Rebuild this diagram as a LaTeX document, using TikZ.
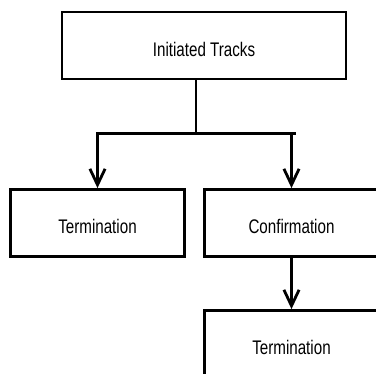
\documentclass[tikz,border=0pt]{standalone}
\usepackage{fontspec}
\setmainfont{Liberation Sans}[FakeStretch=0.77]
\usetikzlibrary{arrows.meta,positioning}

\begin{document}
\begin{tikzpicture}[
  x=0.025cm, y=-0.025cm,
  line width=2pt,
  stagebox/.style={draw, minimum width=4.35cm, minimum height=1.675cm, text centered,
    text height=15pt, text depth=0pt, font=\fontsize{14}{16}\selectfont},
  flow/.style={-{Straight Barb[length=4mm, width=3.8mm, line width=2pt]}}
]
\path[use as bounding box, clip] (0,0) rectangle (376,374);

\node[stagebox, minimum width=7.1cm] (init) at (204,45.5) {Initiated Tracks};
\node[stagebox] (term1) at (97.5,223) {Termination};
\node[stagebox] (conf) at (291.5,223) {Confirmation};
\node[stagebox] (term2) at (291.5,344) {Termination};

\coordinate (split) at (196,133.3);

\draw (init.south -| split) -- (split);
\draw ([xshift=-1pt]term1.north |- split) -- ([xshift=1mm]conf.north |- split);
\draw[flow] (term1.north |- split) -- (term1.north);
\draw[flow] ([yshift=-1pt]conf.north |- split) -- (conf.north);
\draw[flow] (conf) -- (term2);

\end{tikzpicture}
\end{document}
